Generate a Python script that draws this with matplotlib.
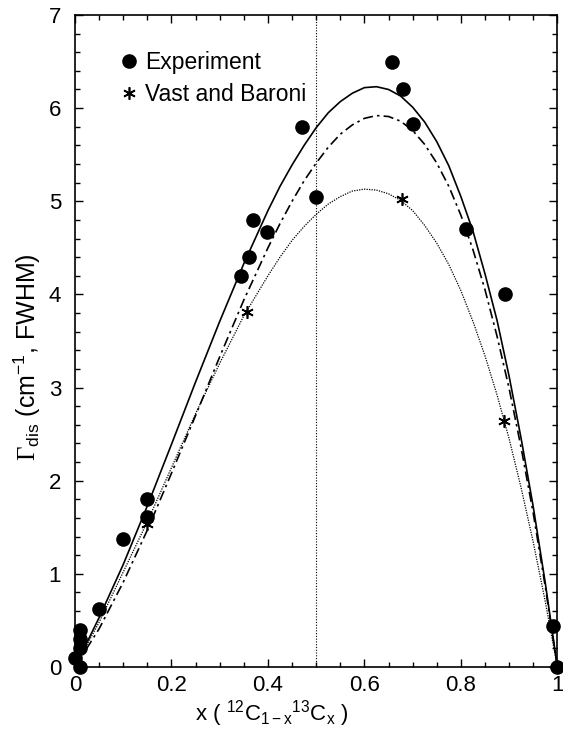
import matplotlib
matplotlib.use("Agg")
import matplotlib.pyplot as plt
from matplotlib.ticker import MultipleLocator, FuncFormatter

plt.rcParams['font.family'] = ['Liberation Sans', 'DejaVu Sans']
plt.rcParams['mathtext.fontset'] = 'custom'
plt.rcParams['mathtext.rm'] = 'Liberation Serif'
plt.rcParams['mathtext.sf'] = 'Liberation Sans'
plt.rcParams['mathtext.it'] = 'Liberation Sans:italic'

# measured linewidths
exp_x = [0.0, 0.01, 0.01, 0.01, 0.01, 0.05, 0.10, 0.15, 0.15, 0.344, 0.361, 0.37, 0.398,
         0.471, 0.50, 0.658, 0.68, 0.701, 0.811, 0.892, 0.99, 1.0]
exp_y = [0.10, 0.0, 0.20, 0.30, 0.40, 0.62, 1.37, 1.61, 1.80, 4.20, 4.40, 4.80, 4.67,
         5.80, 5.05, 6.50, 6.21, 5.83, 4.70, 4.00, 0.44, 0.0]

# Vast and Baroni calculation
vb_x = [0.149, 0.357, 0.678, 0.89]
vb_y = [1.53, 3.81, 5.02, 2.64]

# model curves
curve_x = [0.0, 0.05, 0.10, 0.15, 0.20, 0.25, 0.30, 0.35, 0.40, 0.425, 0.45, 0.475,
           0.50, 0.525, 0.55, 0.575, 0.60, 0.625, 0.65, 0.675, 0.70, 0.725, 0.75,
           0.775, 0.80, 0.825, 0.85, 0.875, 0.90, 0.925, 0.95, 0.975, 1.0]
solid_y = [0.0, 0.53, 1.10, 1.73, 2.39, 3.06, 3.71, 4.33, 4.90, 5.16, 5.39, 5.60,
           5.79, 5.95, 6.07, 6.16, 6.22, 6.23, 6.20, 6.13, 6.01, 5.85, 5.64,
           5.38, 5.05, 4.68, 4.22, 3.72, 3.12, 2.45, 1.72, 0.90, 0.0]
dashdot_y = [0.0, 0.41, 0.91, 1.47, 2.08, 2.70, 3.33, 3.94, 4.50, 4.76, 5.00, 5.22,
             5.41, 5.58, 5.72, 5.82, 5.89, 5.92, 5.91, 5.86, 5.76, 5.61, 5.41,
             5.16, 4.85, 4.48, 4.05, 3.55, 2.99, 2.35, 1.65, 0.86, 0.0]
dotted_y = [0.0, 0.48, 1.02, 1.56, 2.14, 2.72, 3.26, 3.77, 4.20, 4.40, 4.58, 4.73,
            4.86, 4.97, 5.05, 5.11, 5.13, 5.12, 5.08, 5.01, 4.90, 4.74, 4.55,
            4.32, 4.04, 3.71, 3.34, 2.92, 2.45, 1.92, 1.34, 0.70, 0.0]

x_mid = 0.5

fig = plt.figure(figsize=(5.63, 7.34), dpi=100)
ax = fig.add_axes([0.1332, 0.0913, 0.8568, 0.8883])

ax.axvline(x_mid, color='black', lw=0.8, ls=(0, (1, 1.5)))
ax.plot(curve_x, solid_y, color='black', lw=1.2)
ax.plot(curve_x, dashdot_y, color='black', lw=1.2, ls=(0, (6, 2.5, 1.5, 2.5)))
ax.plot(curve_x, dotted_y, color='black', lw=0.9, ls=(0, (1, 1)))

ax.plot(exp_x, exp_y, 'o', color='black', ms=9.5, clip_on=False, label='Experiment', zorder=5)
ax.plot(vb_x, vb_y, marker=(6, 2, 0), ls='none', color='black', ms=9, mew=1.2,
        clip_on=False, label='Vast and Baroni', zorder=5)

ax.set_xlim(0, 1)
ax.set_ylim(0, 7)
ax.xaxis.set_major_locator(MultipleLocator(0.2))
ax.xaxis.set_minor_locator(MultipleLocator(0.05))
ax.yaxis.set_major_locator(MultipleLocator(1))
ax.yaxis.set_minor_locator(MultipleLocator(0.2))
ax.xaxis.set_major_formatter(FuncFormatter(lambda v, p: '%g' % v))

ax.tick_params(which='both', direction='in', top=True, right=True, width=1.0)
ax.tick_params(which='major', length=6, labelsize=16)
ax.tick_params(which='minor', length=3.5)
ax.tick_params(axis='y', which='major', pad=10)
ax.tick_params(axis='x', which='major', pad=6)
for s in ax.spines.values():
    s.set_linewidth(1.2)

ax.set_ylabel(r'$\Gamma_{\mathsf{dis}}$ (cm$^{\mathsf{-1}}$, FWHM)', fontsize=18)
ax.yaxis.set_label_coords(-0.066, 0.475)
ax.set_xlabel(r'x ( $^{\mathsf{12}}$C$_{\mathsf{1-x}}$$^{\mathsf{13}}$C$_{\mathsf{x}}$ )',
              fontsize=16)
ax.xaxis.set_label_coords(0.407, -0.048)

ax.legend(loc='upper left', bbox_to_anchor=(0.06, 0.97), frameon=False, fontsize=16.5,
          handlelength=0.8, handletextpad=0.3, labelspacing=0.4, borderpad=0.2)

fig.savefig('out.png', dpi=100)
